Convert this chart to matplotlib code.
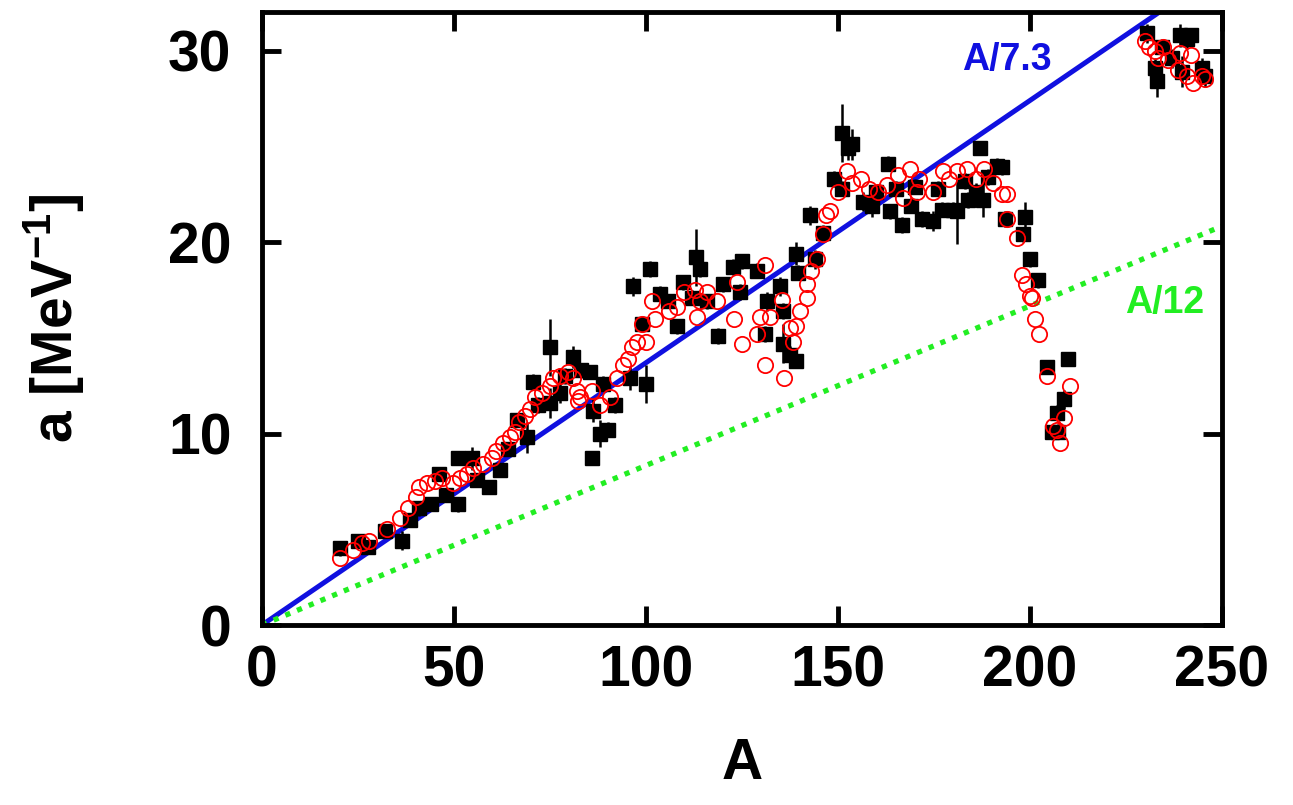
import numpy as np
import matplotlib
matplotlib.use("Agg")
import matplotlib.pyplot as plt

plt.rcParams['font.family'] = ['Liberation Sans', 'DejaVu Sans']
plt.rcParams['font.weight'] = 'bold'
plt.rcParams['mathtext.fontset'] = 'custom'
plt.rcParams['mathtext.rm'] = 'Liberation Sans:bold'
plt.rcParams['mathtext.bf'] = 'Liberation Sans:bold'

# experimental level density parameters (black squares)
exp_A = [20.3, 25, 27.6, 32, 36.5, 38.5, 41, 44, 46, 48, 51, 51, 54.7, 56, 59, 62, 64,
         66.4, 69, 70.6, 72, 75, 75, 77.6, 79, 81, 83, 85.4, 86, 86.2, 88, 88.8, 90, 92,
         95.8, 96.6, 99, 100, 101, 103.6, 105.7, 108, 109.6, 112, 113, 114, 116, 118.7,
         120, 122.7, 125, 124.5, 129, 131.5, 131, 135, 135.7, 135.7, 137.5, 139, 139,
         139.6, 142.7, 144, 146, 149, 151, 152.6, 153.6, 151, 156.5, 159, 160, 163, 163.5,
         165, 166.7, 169, 170, 172, 174.7, 176, 177, 180, 181, 183, 184, 186, 187, 187.8,
         189, 191.4, 192.7, 193.5, 198.7, 198.2, 200, 202, 204.4, 207, 205.7, 207.3, 209,
         210, 230.5, 232.5, 233, 234.4, 237, 239, 239.6, 241, 242, 244.8, 245.6]
exp_a = [4.0, 4.4, 4.1, 4.9, 4.4, 5.5, 6.1, 6.3, 7.9, 6.8, 8.7, 6.3, 8.7, 7.6, 7.2, 8.1, 9.2,
         10.7, 9.8, 12.7, 11.5, 14.5, 11.6, 12.1, 13.0, 14.0, 13.3, 13.2, 8.7, 11.2, 10.0,
         12.6, 10.2, 11.5, 12.9, 17.7, 15.7, 12.6, 18.6, 17.3, 16.9, 15.6, 17.9, 17.1, 19.2,
         18.6, 16.9, 15.1, 17.8, 18.7, 19.0, 17.4, 18.5, 16.9, 15.2, 17.7, 16.4, 14.7, 14.1,
         13.8, 19.4, 18.4, 21.4, 19.1, 20.5, 23.3, 25.7, 24.9, 25.1, 22.8, 22.1, 21.9, 22.6,
         24.1, 21.6, 22.8, 20.9, 21.9, 22.9, 21.2, 21.1, 22.8, 21.7, 21.7, 21.6, 23.2, 22.2,
         22.6, 24.9, 22.2, 23.4, 24.0, 23.9, 21.2, 21.3, 20.4, 19.1, 18.0, 13.5, 11.1, 10.1,
         10.1, 11.8, 13.9, 30.9, 29.1, 28.4, 30.2, 29.6, 30.8, 28.9, 30.6, 30.8, 29.1, 28.7]
exp_err = [0.4, 0.3, 0.3, 0.3, 0.5, 0.3, 0.4, 0.3, 0.3, 0.3, 0.3, 0.4, 0.6, 0.3, 0.3, 0.3,
           0.3, 0.3, 0.8, 0.4, 0.4, 1.5, 0.8, 0.5, 0.4, 0.6, 0.4, 0.3, 0.2, 0.6, 0.7, 0.4,
           0.4, 0.4, 0.6, 0.5, 0.4, 1.0, 0.4, 0.4, 0.3, 0.4, 0.4, 0.4, 1.5, 0.4, 0.4, 0.4,
           0.4, 0.4, 0.4, 0.4, 0.4, 0.5, 0.4, 0.5, 0.4, 1.0, 0.5, 0.4, 0.6, 0.4, 0.5, 0.5,
           0.4, 0.4, 1.5, 0.6, 0.8, 0.4, 0.5, 0.6, 0.4, 0.4, 0.4, 0.4, 0.4, 0.4, 0.4, 0.4,
           0.5, 0.4, 0.4, 0.4, 1.7, 0.4, 0.4, 0.5, 0.3, 0.9, 0.4, 0.4, 0.4, 0.4, 0.8, 0.4,
           0.4, 0.4, 0.3, 0.4, 0.3, 0.4, 0.5, 0.3, 0.5, 0.5, 0.8, 0.4, 0.5, 0.6, 0.8, 0.5,
           0.4, 0.5, 0.6]

# calculated values (red open circles)
calc_A = [20.3, 23.7, 26, 28, 32.5, 36, 38, 40, 41, 43, 45, 47, 49.7, 51.5, 53.4, 55, 57.5,
          60, 61, 62.8, 64.6, 66, 67, 68.5, 69.8, 71, 73, 75, 75.8, 77.6, 79.7, 81, 82,
          82.3, 82.8, 86, 88, 90.6, 92.4, 94, 95.3, 96.4, 97.6, 99, 100, 101.5, 102.3, 106,
          108, 110, 112.8, 113.3, 114, 116, 118.5, 123, 123.7, 125, 129, 129.7, 131, 131,
          132.3, 135.4, 136, 137.5, 138.3, 139, 140, 142, 142, 143, 144.5, 146, 147, 148,
          150, 152.3, 153.6, 156, 158, 160.4, 162.7, 165.6, 167, 168.7, 170.5, 171, 174.7,
          177.3, 179, 181, 183.6, 186, 188, 190.4, 192.7, 194, 194, 196.6, 198, 199, 200,
          200.5, 201.3, 202.3, 204.4, 206, 207, 207.8, 209, 210.4, 230, 231, 232.5, 233.3,
          234.6, 236, 238.5, 239, 241, 242, 242.4, 244.8, 245.6]
calc_a = [3.5, 3.9, 4.3, 4.4, 5.0, 5.6, 6.1, 6.7, 7.2, 7.4, 7.5, 7.7, 7.4, 7.7, 7.9, 8.2,
          8.4, 8.7, 9.1, 9.5, 9.8, 10.1, 10.6, 10.9, 11.3, 11.9, 12.1, 12.5, 12.9, 13.0,
          13.2, 12.9, 12.2, 11.7, 11.9, 12.2, 11.5, 11.9, 12.9, 13.6, 13.9, 14.5, 14.8,
          15.7, 14.8, 16.9, 16.0, 16.4, 16.6, 17.4, 17.5, 16.1, 16.9, 17.4, 16.9, 16.0,
          17.9, 14.7, 15.2, 16.1, 18.8, 13.6, 16.1, 17.0, 12.9, 15.5, 14.8, 15.6, 16.4,
          17.1, 17.8, 18.5, 19.1, 20.4, 21.4, 21.6, 22.6, 23.7, 23.1, 23.3, 22.8, 22.6,
          23.0, 23.5, 22.3, 23.8, 22.6, 23.3, 22.6, 23.7, 23.3, 23.7, 23.8, 23.3, 23.8,
          23.1, 22.5, 22.5, 21.2, 20.2, 18.3, 17.8, 17.2, 17.1, 16.0, 15.2, 13.0, 10.4,
          10.2, 9.5, 10.8, 12.5, 30.5, 30.2, 30.0, 29.6, 30.2, 29.5, 29.0, 29.9, 28.7,
          29.8, 28.3, 28.7, 28.5]

line_A = np.array([0, 250])
slope_blue = 7.3
slope_green = 12

fig = plt.figure(figsize=(12.93, 8.05), dpi=100)
ax = fig.add_axes([0.2026, 0.2236, 0.7424, 0.761])

ax.plot(line_A, line_A / slope_blue, color='#1010e0', lw=3.6, zorder=2)
ax.plot(line_A, line_A / slope_green, color='#22ee22', lw=3.8,
        linestyle=(0, (1, 1.4)), zorder=2)

ax.errorbar(exp_A, exp_a, yerr=exp_err, fmt='s', color='black', ms=10,
            elinewidth=1.8, capsize=0, zorder=3)
ax.plot(calc_A, calc_a, 'o', mfc='none', mec='red', ms=11, mew=1.3, zorder=4)

ax.text(194, 29.5, 'A/7.3', color='#1010e0', fontsize=27, fontweight='bold',
        ha='center', va='center')
ax.text(235, 16.8, 'A/12', color='#22ee22', fontsize=27, fontweight='bold',
        ha='center', va='center')

ax.set_xlim(0, 250)
ax.set_ylim(0, 32)
ax.set_xticks([0, 50, 100, 150, 200, 250])
ax.set_yticks([0, 10, 20, 30])
ax.tick_params(direction='in', length=14, width=3.5, labelsize=41, top=True, right=True)
ax.tick_params(axis='y', pad=22)
ax.tick_params(axis='x', pad=14)
for lab in ax.get_xticklabels() + ax.get_yticklabels():
    lab.set_fontweight('bold')
for s in ax.spines.values():
    s.set_linewidth(3.5)

ax.set_xlabel('A', fontsize=41, fontweight='bold', labelpad=28)
ax.set_ylabel('a [MeV$^{\\mathrm{-1}}$]', fontsize=41, fontweight='bold', labelpad=58)

fig.savefig('out.png', dpi=100)
